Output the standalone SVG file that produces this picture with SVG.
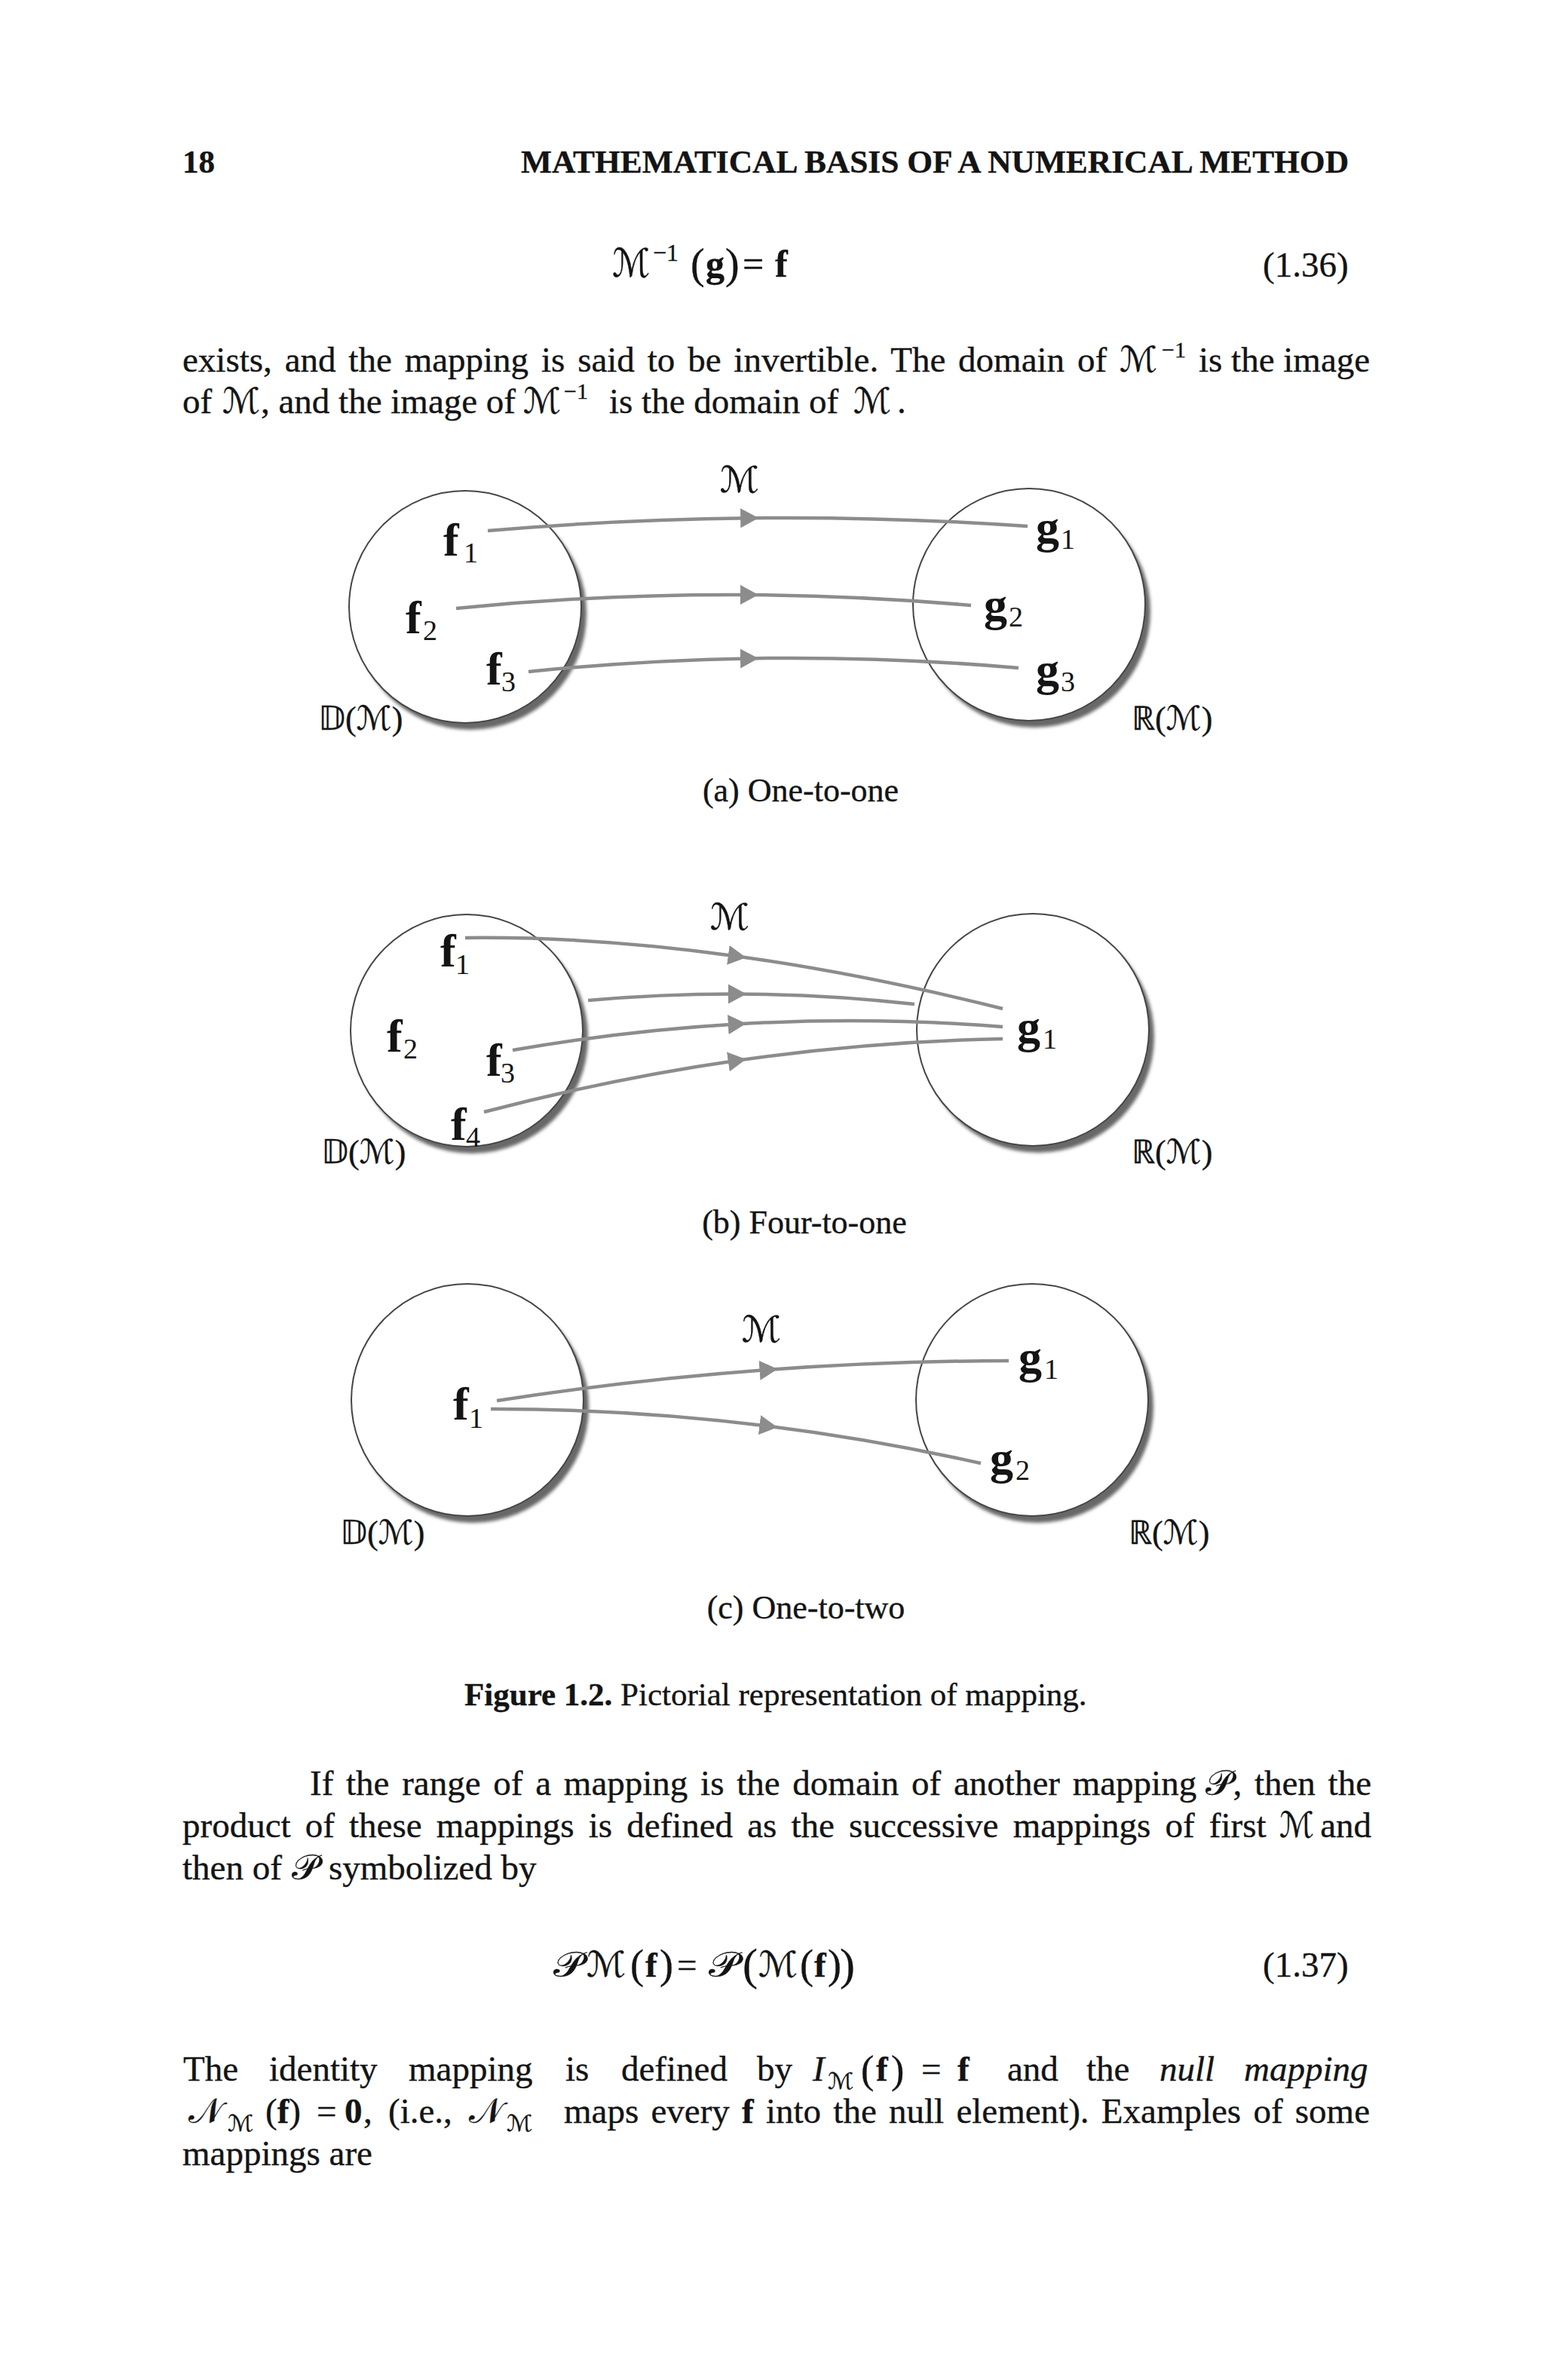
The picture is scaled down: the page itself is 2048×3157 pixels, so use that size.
<svg xmlns="http://www.w3.org/2000/svg" width="2048" height="3157" viewBox="0 0 2048 3157">
<defs>
<style>
text{font-family:'Liberation Serif','Times New Roman',serif;fill:#141414;stroke:#141414;stroke-width:0.35px}
.t{font-size:47px}
.b{font-weight:bold}
.it{font-style:italic}
.scr{font-family:'DejaVu Sans','DejaVu Serif',serif;font-style:normal}
.hd{font-size:43px;font-weight:bold}
.cap{font-size:44px}
.lb{font-size:62px;font-weight:bold;stroke-width:0}
.sb{font-size:38px;stroke-width:0}
.dm{font-size:44px}
.ml{font-size:48px}
.circ{fill:#fff;stroke:#454545;stroke-width:2}
.shd{fill:#686868;filter:url(#bl)}
.con{fill:none;stroke:#8c8c8c;stroke-width:4.5;marker-mid:url(#ah)}
</style>
<filter id="bl" x="-10%" y="-10%" width="120%" height="120%"><feGaussianBlur stdDeviation="2"/></filter>
<marker id="ah" viewBox="0 0 24 26" refX="10" refY="13" markerWidth="24" markerHeight="26" markerUnits="userSpaceOnUse" orient="auto"><path d="M0,0 L24,13 L0,26 Z" fill="#8c8c8c"/></marker>
</defs>
<rect width="2048" height="3157" fill="#fff"/>

<g id="header">
<text class="hd" x="242" y="229">18</text>
<text class="hd" x="691" y="229" textLength="1098" lengthAdjust="spacingAndGlyphs">MATHEMATICAL BASIS OF A NUMERICAL METHOD</text>
</g>

<g id="eq136">
<text class="scr" x="812" y="367" font-size="52" textLength="50" lengthAdjust="spacingAndGlyphs">ℳ</text>
<text x="866" y="346" font-size="32">−1</text>
<text x="916" y="369" font-size="56">(</text>
<text class="b" x="936" y="367" font-size="50">g</text>
<text x="962" y="369" font-size="56">)</text>
<text x="985" y="367" font-size="50">=</text>
<text class="b" x="1028" y="367" font-size="50">f</text>
<text class="t" x="1675" y="367">(1.36)</text>
</g>

<g id="para1">
<text class="t" x="242" y="493" word-spacing="5.1">exists, and the mapping is said to be invertible. The domain of</text>
<text class="t scr" x="1485" y="493" textLength="50" lengthAdjust="spacingAndGlyphs">ℳ</text>
<text x="1541" y="474" font-size="30">−1</text>
<text class="t" x="1590" y="493">is the image</text>
<text class="t" x="242" y="548">of</text>
<text class="t scr" x="295" y="548" textLength="50" lengthAdjust="spacingAndGlyphs">ℳ</text>
<text class="t" x="346" y="548">, and the image of</text>
<text class="t scr" x="694" y="548" textLength="50" lengthAdjust="spacingAndGlyphs">ℳ</text>
<text x="748" y="529" font-size="30">−1</text>
<text class="t" x="808" y="548">is the domain of</text>
<text class="t scr" x="1132" y="548" textLength="50" lengthAdjust="spacingAndGlyphs">ℳ</text>
<text class="t" x="1190" y="548">.</text>
</g>

<g id="figA">
<g id="a-dom"><circle class="shd" cx="624" cy="814" r="154"/><circle class="circ" cx="617" cy="805" r="154"/></g>
<g id="a-ran"><circle class="shd" cx="1372" cy="811" r="154"/><circle class="circ" cx="1365" cy="802" r="154"/></g>
<g id="a-connectors">
<path class="con" d="M647,704 Q819.6,689.1 992.2,687.2 Q1177.6,685.1 1363,698"/>
<path class="con" d="M605,807 Q798.5,787.7 992,789 Q1140,790 1288,803"/>
<path class="con" d="M701,891 Q846.5,876 992,873.4 Q1171.5,870.3 1351,886"/>
</g>
<text class="scr ml" x="955" y="653" textLength="52" lengthAdjust="spacingAndGlyphs">ℳ</text>
<g id="a-f1"><text class="lb" x="588" y="737">f</text><text class="sb" x="615" y="746">1</text></g>
<g id="a-f2"><text class="lb" x="538" y="840">f</text><text class="sb" x="561" y="849">2</text></g>
<g id="a-f3"><text class="lb" x="645" y="908">f</text><text class="sb" x="665" y="917">3</text></g>
<g id="a-g1"><text class="lb" x="1374" y="720">g</text><text class="sb" x="1407" y="728">1</text></g>
<g id="a-g2"><text class="lb" x="1305" y="823">g</text><text class="sb" x="1338" y="831">2</text></g>
<g id="a-g3"><text class="lb" x="1374" y="909">g</text><text class="sb" x="1407" y="917">3</text></g>
<text class="dm" x="422" y="968">𝔻(<tspan class="scr">ℳ</tspan>)</text>
<text class="dm" x="1501" y="968">ℝ(<tspan class="scr">ℳ</tspan>)</text>
<text class="cap" x="1062" y="1063" text-anchor="middle">(a) One-to-one</text>
</g>

<g id="figB">
<g id="b-dom"><circle class="shd" cx="626" cy="1376" r="154"/><circle class="circ" cx="619" cy="1367" r="154"/></g>
<g id="b-ran"><circle class="shd" cx="1377" cy="1375" r="154"/><circle class="circ" cx="1370" cy="1366" r="154"/></g>
<g id="b-connectors">
<path class="con" d="M617,1244 Q786.5,1241.9 975.8,1268.2 Q1145,1291.7 1330,1338"/>
<path class="con" d="M780,1327 Q878,1318.3 976,1318.5 Q1094.5,1318.7 1213,1332"/>
<path class="con" d="M680,1393 Q827.9,1367.2 975.8,1358.5 Q1152.9,1348 1330,1362"/>
<path class="con" d="M642,1475 Q809.1,1431.1 975.8,1407 Q1152.8,1381.3 1330,1378"/>
</g>
<text class="scr ml" x="942" y="1233" textLength="52" lengthAdjust="spacingAndGlyphs">ℳ</text>
<g id="b-f1"><text class="lb" x="584" y="1282">f</text><text class="sb" x="604" y="1292">1</text></g>
<g id="b-f2"><text class="lb" x="513" y="1395">f</text><text class="sb" x="535" y="1404">2</text></g>
<g id="b-f3"><text class="lb" x="645" y="1427">f</text><text class="sb" x="664" y="1436">3</text></g>
<g id="b-f4"><text class="lb" x="598" y="1512">f</text><text class="sb" x="618" y="1521">4</text></g>
<g id="b-g1"><text class="lb" x="1349" y="1383">g</text><text class="sb" x="1383" y="1391">1</text></g>
<text class="dm" x="426" y="1543">𝔻(<tspan class="scr">ℳ</tspan>)</text>
<text class="dm" x="1501" y="1543">ℝ(<tspan class="scr">ℳ</tspan>)</text>
<text class="cap" x="1067" y="1636" text-anchor="middle">(b) Four-to-one</text>
</g>

<g id="figC">
<g id="c-dom"><circle class="shd" cx="627" cy="1866" r="154"/><circle class="circ" cx="620" cy="1857" r="154"/></g>
<g id="c-ran"><circle class="shd" cx="1376" cy="1866" r="154"/><circle class="circ" cx="1369" cy="1857" r="154"/></g>
<g id="c-connectors">
<path class="con" d="M659,1858 Q838.3,1830.3 1017.5,1817.1 Q1177.8,1805.3 1338,1805"/>
<path class="con" d="M651,1869 Q834.2,1868.7 1017.4,1891.5 Q1159.2,1909.2 1301,1941"/>
</g>
<text class="scr ml" x="984" y="1780" textLength="52" lengthAdjust="spacingAndGlyphs">ℳ</text>
<g id="c-f1"><text class="lb" x="601" y="1883">f</text><text class="sb" x="622" y="1894">1</text></g>
<g id="c-g1"><text class="lb" x="1351" y="1821">g</text><text class="sb" x="1385" y="1829">1</text></g>
<g id="c-g2"><text class="lb" x="1313" y="1955">g</text><text class="sb" x="1347" y="1963">2</text></g>
<text class="dm" x="451" y="2048">𝔻(<tspan class="scr">ℳ</tspan>)</text>
<text class="dm" x="1497" y="2048">ℝ(<tspan class="scr">ℳ</tspan>)</text>
<text class="cap" x="1069" y="2147" text-anchor="middle">(c) One-to-two</text>
</g>

<g id="caption">
<text x="616" y="2262" font-size="43"><tspan class="b">Figure 1.2.</tspan> Pictorial representation of mapping.</text>
</g>

<g id="para2">
<text class="t" x="411" y="2381" word-spacing="5">If the range of a mapping is the domain of another mapping</text>
<text class="t scr" x="1599" y="2381" textLength="36" lengthAdjust="spacingAndGlyphs">𝒫</text>
<text class="t" x="1819" y="2381" text-anchor="end" word-spacing="5">, then the</text>
<text class="t" x="242" y="2437" word-spacing="7.4">product of these mappings is defined as the successive mappings of first</text>
<text class="t scr" x="1697" y="2437" textLength="46" lengthAdjust="spacingAndGlyphs">ℳ</text>
<text class="t" x="1819" y="2437" text-anchor="end">and</text>
<text class="t" x="242" y="2493">then of</text>
<text class="t scr" x="387" y="2493" textLength="36" lengthAdjust="spacingAndGlyphs">𝒫</text>
<text class="t" x="436" y="2493">symbolized by</text>
</g>

<g id="eq137">
<text class="t scr" x="734" y="2622" textLength="40" lengthAdjust="spacingAndGlyphs">𝒫</text>
<text class="t scr" x="778" y="2622" textLength="52" lengthAdjust="spacingAndGlyphs">ℳ</text>
<text x="836" y="2624" font-size="54">(</text>
<text class="t b" x="856" y="2622">f</text>
<text x="875" y="2624" font-size="54">)</text>
<text class="t" x="898" y="2622">=</text>
<text class="t scr" x="940" y="2622" textLength="40" lengthAdjust="spacingAndGlyphs">𝒫</text>
<text x="985" y="2626" font-size="60">(</text>
<text class="t scr" x="1006" y="2622" textLength="52" lengthAdjust="spacingAndGlyphs">ℳ</text>
<text x="1061" y="2624" font-size="54">(</text>
<text class="t b" x="1080" y="2622">f</text>
<text x="1098" y="2624" font-size="54">)</text>
<text x="1114" y="2626" font-size="60">)</text>
<text class="t" x="1675" y="2622">(1.37)</text>
</g>

<g id="para3">
<text class="t" x="243" y="2760">The</text>
<text class="t" x="357" y="2760">identity</text>
<text class="t" x="542" y="2760">mapping</text>
<text class="t" x="750" y="2760">is</text>
<text class="t" x="824" y="2760">defined</text>
<text class="t" x="1004" y="2760">by</text>
<text class="t it" x="1078" y="2760">I</text>
<text class="scr" x="1098" y="2771" font-size="30" textLength="34" lengthAdjust="spacingAndGlyphs">ℳ</text>
<text x="1142" y="2763" font-size="52">(</text>
<text class="t b" x="1162" y="2760">f</text>
<text x="1182" y="2763" font-size="52">)</text>
<text class="t" x="1222" y="2760">=</text>
<text class="t b" x="1270" y="2760">f</text>
<text class="t" x="1336" y="2760">and</text>
<text class="t" x="1441" y="2760">the</text>
<text class="t it" x="1538" y="2760">null</text>
<text class="t it" x="1650" y="2760">mapping</text>
<text class="t scr" x="250" y="2816">𝒩</text>
<text class="scr" x="302" y="2827" font-size="30" textLength="34" lengthAdjust="spacingAndGlyphs">ℳ</text>
<text class="t" x="352" y="2816">(<tspan class="b">f</tspan>)</text>
<text class="t" x="420" y="2816">=</text>
<text class="t b" x="457" y="2816">0</text>
<text class="t" x="482" y="2816">,</text>
<text class="t" x="515" y="2816">(i.e.,</text>
<text class="t scr" x="622" y="2816">𝒩</text>
<text class="scr" x="672" y="2827" font-size="30" textLength="34" lengthAdjust="spacingAndGlyphs">ℳ</text>
<text class="t" x="748" y="2816" word-spacing="4.5">maps every <tspan class="b">f</tspan> into the null element). Examples of some</text>
<text class="t" x="242" y="2872">mappings are</text>
</g>
</svg>
